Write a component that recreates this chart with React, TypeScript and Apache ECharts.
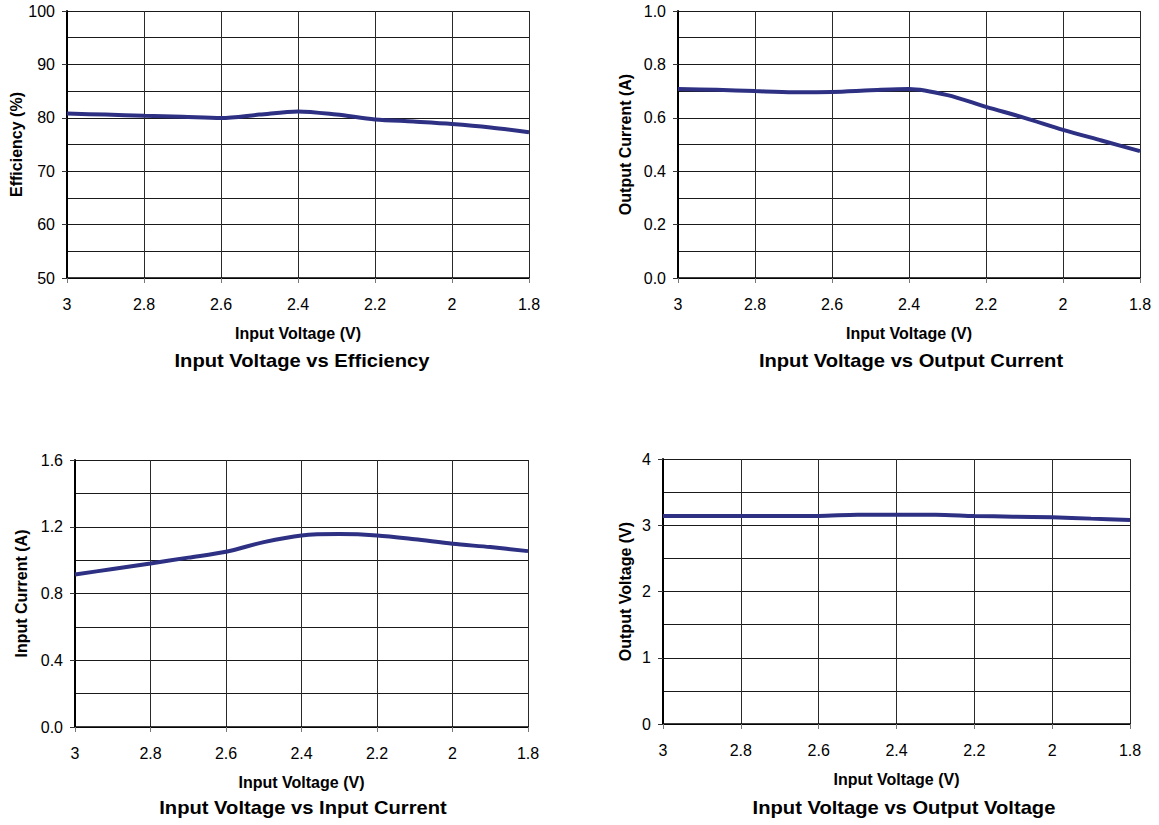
import React, { useEffect, useRef } from "react";
import * as echarts from "echarts";

// Input voltage sample points (V), 3.0 down to 1.8
const inputVoltage = [3.0, 2.9, 2.8, 2.7, 2.6, 2.5, 2.4, 2.3, 2.2, 2.1, 2.0, 1.9, 1.8];
const efficiency = [80.8, 80.6, 80.4, 80.2, 79.95, 80.6, 81.2, 80.6, 79.7, 79.3, 78.85, 78.2, 77.3];
const outputCurrent = [0.708, 0.705, 0.7, 0.696, 0.697, 0.703, 0.708, 0.685, 0.641, 0.6, 0.555, 0.515, 0.475];
const inputCurrent = [0.914, 0.947, 0.98, 1.015, 1.05, 1.108, 1.148, 1.156, 1.148, 1.125, 1.098, 1.078, 1.054];
const outputVoltage = [3.14, 3.14, 3.14, 3.14, 3.14, 3.16, 3.16, 3.16, 3.14, 3.13, 3.12, 3.1, 3.08];

const xTitle = "Input Voltage (V)";
const chartTitles = [
  "Input Voltage vs Efficiency",
  "Input Voltage vs Output Current",
  "Input Voltage vs Input Current",
  "Input Voltage vs Output Voltage",
];
const yTitles = ["Efficiency (%)", "Output Current (A)", "Input Current (A)", "Output Voltage (V)"];
const yRanges = [
  { min: 50, max: 100, interval: 10, digits: 0 },
  { min: 0, max: 1, interval: 0.2, digits: 1 },
  { min: 0, max: 1.6, interval: 0.4, digits: 1 },
  { min: 0, max: 4, interval: 1, digits: 0 },
];
const seriesValues = [efficiency, outputCurrent, inputCurrent, outputVoltage];

const FONT = "'Liberation Sans', Arial, sans-serif";

export default function App() {
  const ref = useRef<HTMLDivElement>(null);
  useEffect(() => {
    if (!ref.current) return;
    const chart = echarts.init(ref.current, undefined, { renderer: "svg" });
    const grids = [
      { left: 67, top: 11, width: 462, height: 267 },
      { left: 678, top: 11, width: 462, height: 267 },
      { left: 75, top: 460, width: 453, height: 267 },
      { left: 663, top: 459, width: 467, height: 265 },
    ];
    const yNameGaps = [42, 45, 46, 30];
    const titlePos = [
      [302, 361],
      [911, 361],
      [303, 808],
      [904, 808],
    ];
    const xAxes = grids.map((_, i) => ({
      type: "value",
      gridIndex: i,
      min: 1.8,
      max: 3,
      interval: 0.2,
      inverse: true,
      name: xTitle,
      nameLocation: "middle",
      nameGap: 47,
      nameTextStyle: { fontFamily: FONT, fontWeight: "bold", fontSize: 16, color: "#000" },
      axisLine: { show: true, lineStyle: { color: "#000", width: 1.5 } },
      axisTick: { show: true, length: 5, lineStyle: { color: "#777" } },
      axisLabel: {
        margin: 18,
        fontFamily: FONT,
        fontSize: 16,
        color: "#000",
        formatter: (v: number) => String(Math.round(v * 10) / 10),
      },
      splitLine: { show: true, lineStyle: { color: "#2a2a2a", width: 1 } },
    }));
    const yAxes = grids.map((_, i) => ({
      type: "value",
      gridIndex: i,
      min: yRanges[i].min,
      max: yRanges[i].max,
      interval: yRanges[i].interval,
      name: yTitles[i],
      nameLocation: "middle",
      nameGap: yNameGaps[i],
      nameTextStyle: { fontFamily: FONT, fontWeight: "bold", fontSize: 16, color: "#000" },
      axisLine: { show: true, lineStyle: { color: "#000", width: 2 } },
      axisTick: { show: true, length: 5, lineStyle: { color: "#333" } },
      axisLabel: {
        margin: 12,
        fontFamily: FONT,
        fontSize: 16,
        color: "#000",
        formatter: (v: number) => v.toFixed(yRanges[i].digits),
      },
      splitLine: { show: true, lineStyle: { color: "#1a1a1a", width: 1 } },
      minorTick: { show: false, splitNumber: 2 },
      minorSplitLine: { show: true, lineStyle: { color: "#1a1a1a", width: 1 } },
    }));
    const series = seriesValues.map((vals, i) => ({
      type: "line",
      xAxisIndex: i,
      yAxisIndex: i,
      data: inputVoltage.map((x, k) => [x, vals[k]]),
      smooth: 0.3,
      showSymbol: false,
      lineStyle: { color: "#2d3083", width: 4 },
      itemStyle: { color: "#2d3083" },
    }));
    const graphics = chartTitles.map((t, i) => ({
      type: "text",
      x: titlePos[i][0],
      y: titlePos[i][1],
      scaleX: 1.12,
      style: {
        text: t,
        fontFamily: FONT,
        fontWeight: "bold",
        fontSize: 18,
        fill: "#000",
        textAlign: "center",
        textVerticalAlign: "middle",
      },
    }));
    chart.setOption({
      animation: false,
      backgroundColor: "#fff",
      grid: grids,
      xAxis: xAxes,
      yAxis: yAxes,
      series,
      graphic: graphics,
    });
    return () => chart.dispose();
  }, []);
  return (
    <div
      ref={ref}
      style={{ position: "absolute", left: 0, top: 0, width: 1159, height: 825 }}
    />
  );
}
